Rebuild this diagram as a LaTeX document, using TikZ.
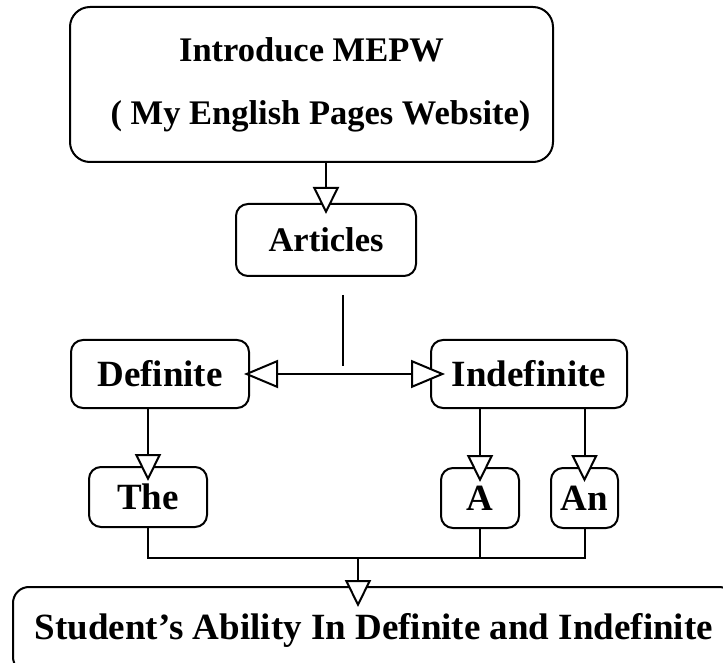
\documentclass[tikz,border=0pt]{standalone}
\usepackage{fontspec}
\setmainfont{Liberation Serif}
\usetikzlibrary{arrows.meta}
\tikzset{
  artbox/.style={draw, line width=1pt, rounded corners=6pt, inner sep=0pt, align=center,
    font=\fontsize{18.5}{22}\selectfont\bfseries},
  smallfont/.style={font=\fontsize{17.25}{31.5}\selectfont\bfseries},
  tri/.style={-{Triangle[length=13.5pt,width=13pt,fill=white]}, line width=1pt},
}
\begin{document}
\begin{tikzpicture}[x=0.5pt,y=-0.5pt]
  \useasboundingbox (0,0) rectangle (723,663);
  \node[artbox, smallfont, rounded corners=10pt, minimum width=241.5pt, minimum height=77.5pt] (intro) at (311.5,84.5) {Introduce MEPW\\\hspace*{9pt}( My English Pages Website)};
  \node[artbox, smallfont, minimum width=90pt, minimum height=36pt] (articles) at (326,240) {Articles};
  \node[artbox, minimum width=89pt, minimum height=34pt] (definite) at (160,374) {Definite};
  \node[artbox, minimum width=98pt, minimum height=34pt] (indefinite) at (529,374) {Indefinite};
  \node[artbox, minimum width=59pt, minimum height=30pt] (the) at (148,497) {The};
  \node[artbox, minimum width=39pt, minimum height=30pt] (a) at (480,498) {A};
  \node[artbox, minimum width=33.5pt, minimum height=30pt] (an) at (584.5,498) {An};
  \node[artbox, rounded corners=8pt, minimum width=361pt, minimum height=43pt] (ability) at (374,630) {Student's Ability In Definite and Indefinite};
  % free stem under Articles
  \coordinate (stemtop) at (343,295);
  \coordinate (stembot) at (343,366);
  \coordinate (bus) at (358,558);
  \draw[line width=1pt] (stemtop) -- (stembot);
  \draw[tri, shorten >=-5.5pt] (intro.south -| articles.north) -- (articles.north);
  \draw[tri, {Triangle[length=17pt,width=14pt,fill=white]}-{Triangle[length=17pt,width=14pt,fill=white]}, shorten <=-3pt, shorten >=-7.5pt] (definite) -- (indefinite);
  \draw[tri, shorten >=-7.5pt] (definite.south -| the.north) -- (the.north);
  \draw[tri, shorten >=-7.5pt] (indefinite.south -| a.north) -- (a.north);
  \draw[tri, shorten >=-7.5pt] (indefinite.south -| an.north) -- (an.north);
  \draw[line width=1pt] (the.south) |- (an.south |- bus) -- (an.south);
  \draw[line width=1pt] (a.south) -- (a.south |- bus);
  \draw[tri, shorten >=-10.5pt] (bus) -- (bus |- ability.north);
\end{tikzpicture}
\end{document}
